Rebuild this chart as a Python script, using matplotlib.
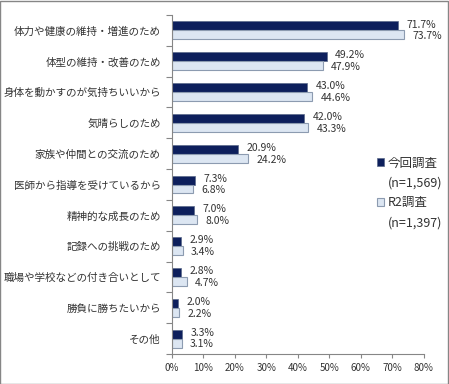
import matplotlib
matplotlib.use("Agg")
import matplotlib.pyplot as plt
from matplotlib.patches import Rectangle
import numpy as np

plt.rcParams["font.family"] = ["Noto Sans CJK JP", "DejaVu Sans"]

categories = [
    "体力や健康の維持・増進のため",
    "体型の維持・改善のため",
    "身体を動かすのが気持ちいいから",
    "気晴らしのため",
    "家族や仲間との交流のため",
    "医師から指導を受けているから",
    "精神的な成長のため",
    "記録への挑戦のため",
    "職場や学校などの付き合いとして",
    "勝負に勝ちたいから",
    "その他",
]
current = [71.7, 49.2, 43.0, 42.0, 20.9, 7.3, 7.0, 2.9, 2.8, 2.0, 3.3]
previous = [73.7, 47.9, 44.6, 43.3, 24.2, 6.8, 8.0, 3.4, 4.7, 2.2, 3.1]
series_names = ["今回調査", "R2調査"]
series_n = ["(n=1,569)", "(n=1,397)"]
x_ticks = [0, 10, 20, 30, 40, 50, 60, 70, 80]

dark = "#0d1f5c"
light = "#dce6f2"
gray = "#868686"

fig = plt.figure(figsize=(4.49, 3.84), dpi=100)
ax = fig.add_axes([0.383, 0.078, 0.561, 0.883])

y = np.arange(len(categories))
h = 0.29
b1 = ax.barh(y - h / 2, current, height=h, color=dark, edgecolor="#5a6a8a", linewidth=0.5)
b2 = ax.barh(y + h / 2, previous, height=h, color=light, edgecolor="#8c9bb0", linewidth=0.8)

for bar, v in zip(b1, current):
    ax.annotate(f"{v:.1f}%", (bar.get_width(), bar.get_y() + bar.get_height() / 2),
                xytext=(6, 1), textcoords="offset points", va="center", ha="left",
                fontsize=7.5, color="#333333")
for bar, v in zip(b2, previous):
    ax.annotate(f"{v:.1f}%", (bar.get_width(), bar.get_y() + bar.get_height() / 2),
                xytext=(6, -1), textcoords="offset points", va="center", ha="left",
                fontsize=7.5, color="#333333")

ax.set_xlim(0, 80)
ax.set_ylim(len(categories) - 0.5, -0.5)
ax.set_xticks(x_ticks)
ax.set_xticklabels([f"{t}%" for t in x_ticks], fontsize=7, color="#333333")
ax.set_yticks(np.arange(len(categories) + 1) - 0.5)
ax.set_yticklabels([])
ax.set_yticks(y, minor=True)
ax.set_yticklabels(categories, minor=True, fontsize=7.6, color="#333333")
ax.tick_params(axis="y", which="minor", length=0, pad=8)
ax.tick_params(axis="y", which="major", length=4, color=gray)
ax.tick_params(axis="x", length=3, color=gray)

for s in ["top", "right"]:
    ax.spines[s].set_visible(False)
for s in ["left", "bottom"]:
    ax.spines[s].set_color(gray)

blank = Rectangle((0, 0), 1, 1, visible=False)
handles = [b1[0], blank, b2[0], blank]
labels = [series_names[0], series_n[0], series_names[1], series_n[1]]
leg = fig.legend(handles, labels, loc="upper left", bbox_to_anchor=(0.82, 0.615),
                 frameon=False, fontsize=9, handlelength=0.6, handleheight=0.6,
                 handletextpad=0.25, labelspacing=0.55, borderpad=0.2)
for t in leg.get_texts():
    t.set_color("#333333")

fig.patches.append(Rectangle((0.001, 0.001), 0.997, 0.996, transform=fig.transFigure,
                             fill=False, edgecolor=gray, linewidth=1))

fig.savefig("out.png", dpi=100)
